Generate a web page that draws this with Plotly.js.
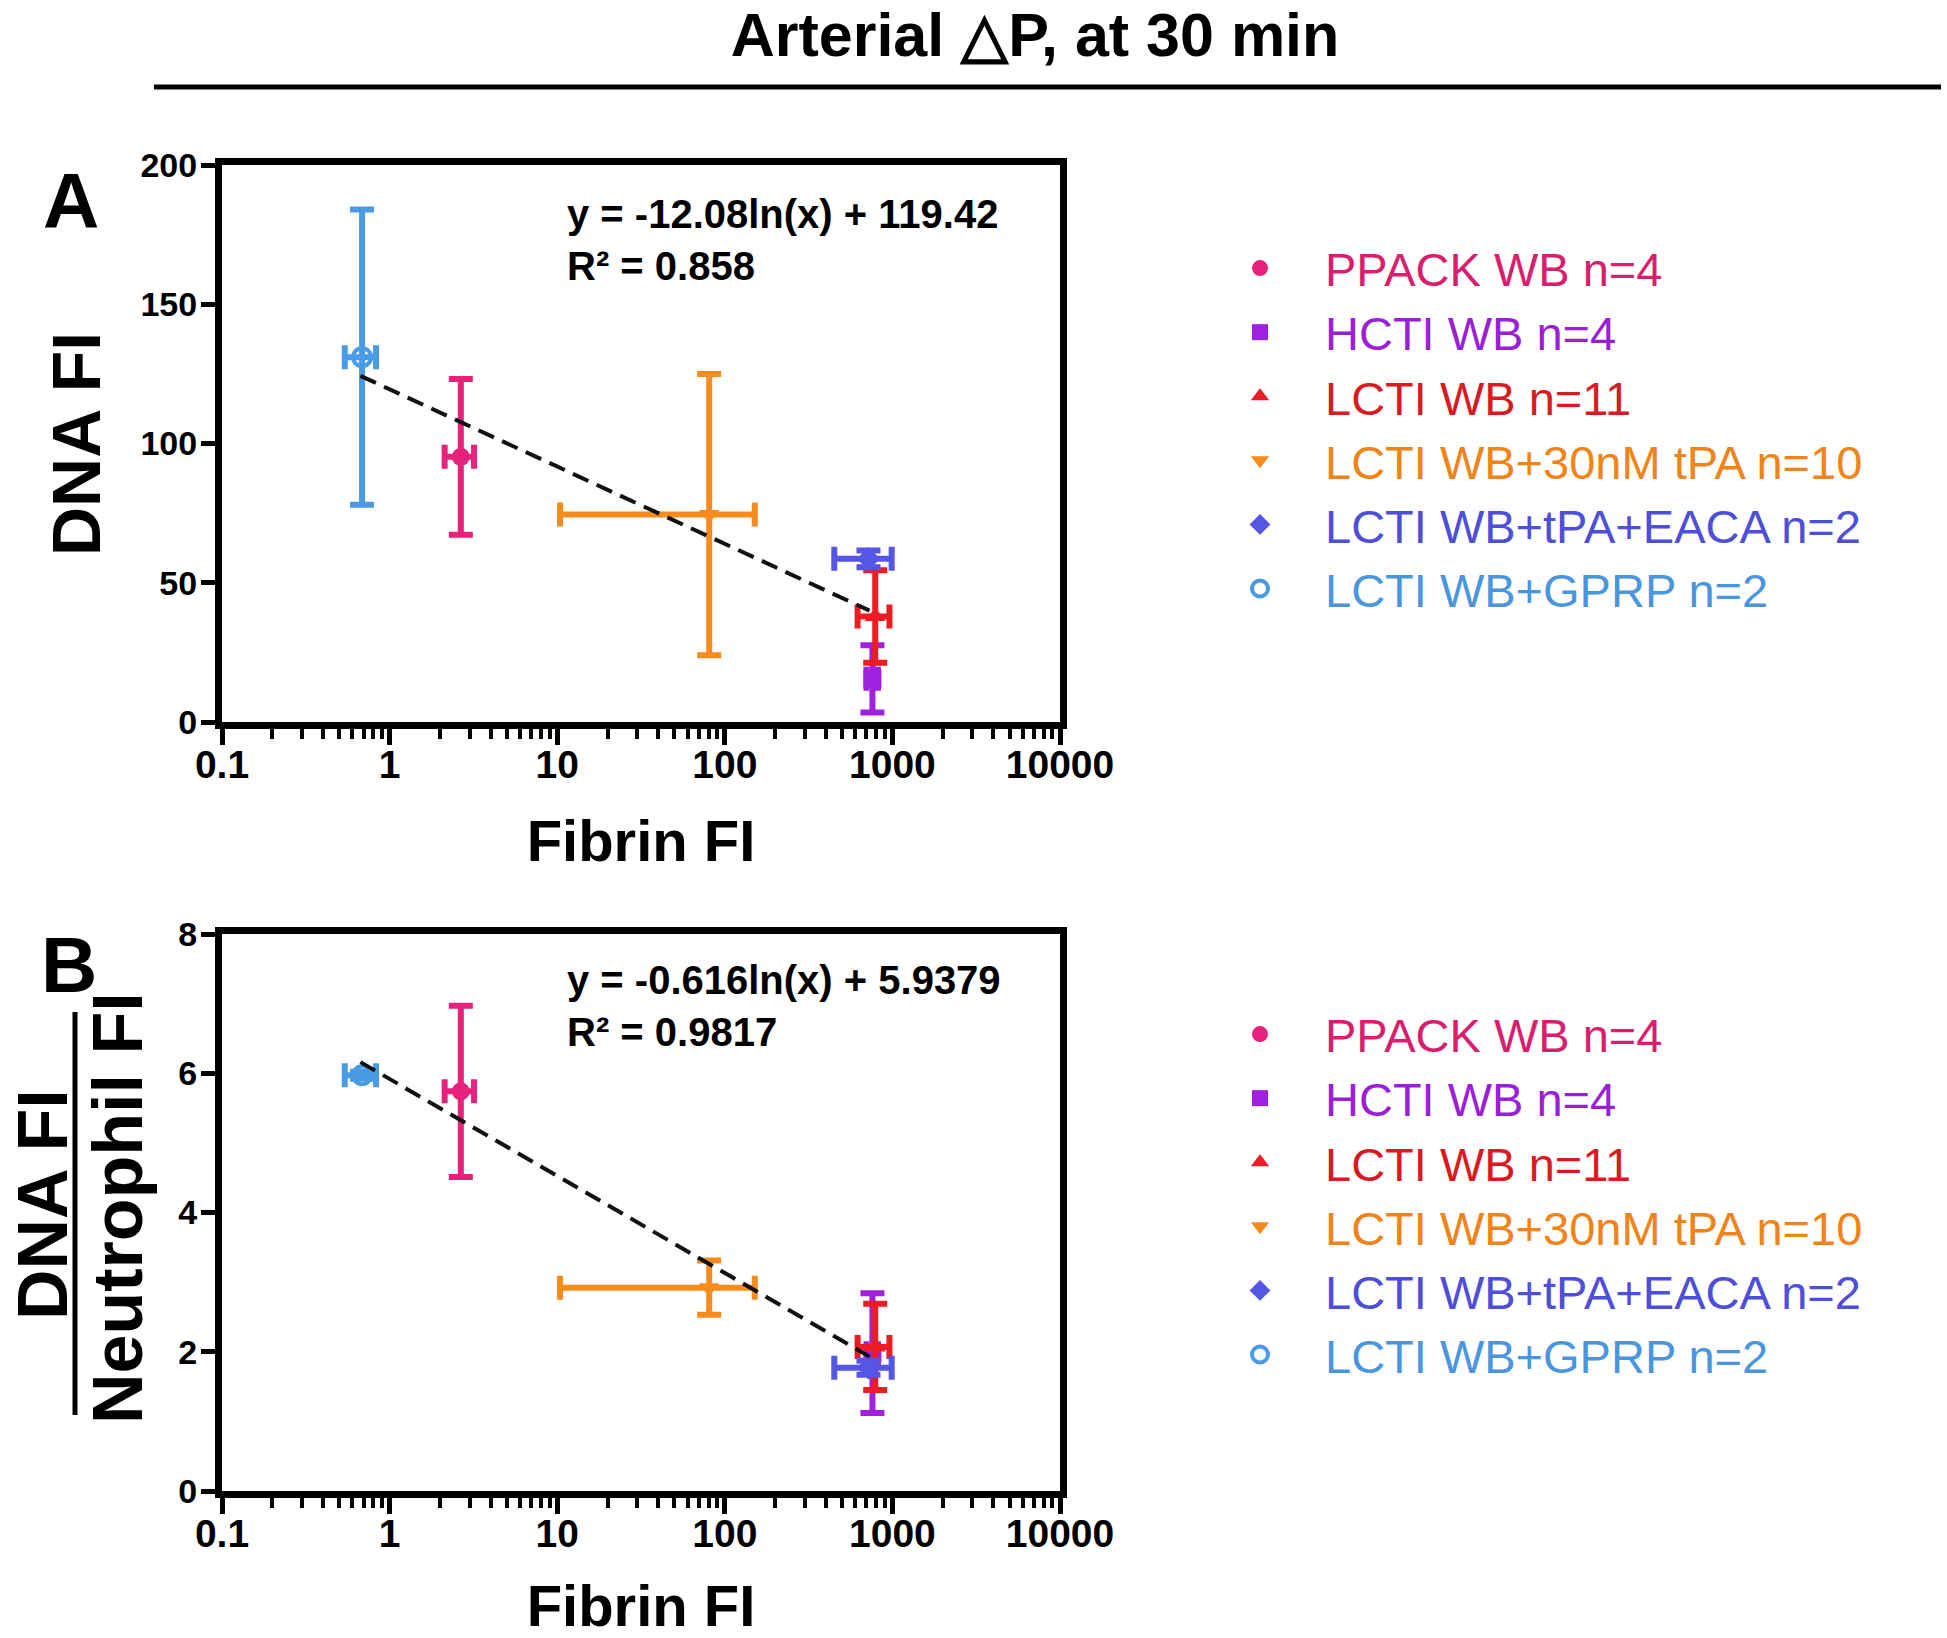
<!DOCTYPE html>
<html>
<head>
<meta charset="utf-8">
<script src="https://cdn.plot.ly/plotly-3.0.1.min.js"></script>
<style>html,body{margin:0;padding:0;background:#fff;}</style>
</head>
<body>
<div id="chart" style="width:1947px;height:1638px;"></div>
<script>
// ---- data ----
const groups = ['PPACK WB n=4', 'HCTI WB n=4', 'LCTI WB n=11', 'LCTI WB+30nM tPA n=10', 'LCTI WB+tPA+EACA n=2', 'LCTI WB+GPRP n=2'];
const colors = ['#E8227C', '#A020E0', '#EC1C24', '#F78B1E', '#5656E6', '#4A9BE6'];
const textColors = ['#D81E6E', '#9A1FD6', '#DA1A22', '#F08418', '#4E4ED8', '#4A96DE'];
const symbols = ['circle', 'square', 'triangle-up', 'triangle-down', 'diamond', 'circle-open'];

// Fibrin FI (shared by both panels)
const fibrin = [2.66, 760, 790, 80.7, 720, 0.685];
const fibrinErr = [0.53, 60, 170, 70.3, 270, 0.145];

// Panel A: DNA FI
const dnaA = [95.2, 15.5, 37.9, 74.5, 58.6, 131];
const dnaErrA = [28, 12.1, 16.6, 50.5, 3, 53];

// Panel B: DNA FI / Neutrophil FI
const ratioB = [5.74, 1.98, 2.07, 2.92, 1.77, 5.97];
const ratioErrB = [1.23, 0.86, 0.62, 0.39, 0.1, 0.05];

// Trend lines (end points)
const trendAx = [0.67, 730];
const trendAy = [124.3, 40];
const trendBx = [0.67, 730];
const trendBy = [6.16, 1.93];

const eqA = 'y = -12.08ln(x) + 119.42<br>R² = 0.858';
const eqB = 'y = -0.616ln(x) + 5.9379<br>R² = 0.9817';

const xTickVals = [0.1, 1, 10, 100, 1000, 10000];
const xTickText = ['0.1', '1', '10', '100', '1000', '10000'];

// ---- build ----
const W = 1947, H = 1638;
const px = v => v / W;
const py = v => 1 - v / H;
const FONT = 'Liberation Sans, Arial, sans-serif';

const traces = [];
function addPanel(yVals, yErr, xa, ya, leg) {
  for (let i = 0; i < groups.length; i++) {
    traces.push({
      type: 'scatter', mode: 'markers',
      x: [fibrin[i]], y: [yVals[i]],
      xaxis: xa, yaxis: ya, legend: leg,
      name: '<span style="color:' + textColors[i] + '">' + groups[i] + '</span>',
      marker: {symbol: symbols[i], size: 18, color: colors[i],
               line: {color: colors[i], width: symbols[i] === 'circle-open' ? 4 : 0}},
      error_x: {type: 'data', array: [fibrinErr[i]], color: colors[i], thickness: 6, width: 12},
      error_y: {type: 'data', array: [yErr[i]], color: colors[i], thickness: 6, width: 12}
    });
  }
}
addPanel(dnaA, dnaErrA, 'x', 'y', 'legend');
addPanel(ratioB, ratioErrB, 'x2', 'y2', 'legend2');
traces.push({type: 'scatter', mode: 'lines', x: trendAx, y: trendAy, xaxis: 'x', yaxis: 'y',
  showlegend: false, line: {color: '#111', width: 4, dash: '17px,9px'}});
traces.push({type: 'scatter', mode: 'lines', x: trendBx, y: trendBy, xaxis: 'x2', yaxis: 'y2',
  showlegend: false, line: {color: '#111', width: 4, dash: '17px,9px'}});

function xAxis(anchor) {
  return {
    domain: [px(222), px(1060)], anchor: anchor, type: 'log', range: [-1, 4],
    showline: true, linewidth: 7, linecolor: '#000', mirror: true,
    ticks: 'outside', ticklen: 16, tickwidth: 5, tickcolor: '#000', ticklabelstandoff: -14,
    tickmode: 'array', tickvals: xTickVals, ticktext: xTickText,
    tickfont: {family: FONT, size: 39, color: '#000', weight: 'bold'},
    minor: {ticks: 'outside', ticklen: 10, tickwidth: 4, tickcolor: '#000', dtick: 'D1', showgrid: false},
    showgrid: false, zeroline: false,
    title: {text: 'Fibrin FI', font: {family: FONT, size: 58, color: '#000', weight: 'bold'}, standoff: 38}
  };
}
function yAxis(anchor, domain, range, dtick) {
  return {
    domain: domain, anchor: anchor, range: range, dtick: dtick,
    showline: true, linewidth: 7, linecolor: '#000', mirror: true,
    ticks: 'outside', ticklen: 14, tickwidth: 5, tickcolor: '#000', ticklabelstandoff: -3,
    tickfont: {family: FONT, size: 34, color: '#000', weight: 'bold'},
    showgrid: false, zeroline: false
  };
}

const legendBase = {
  xanchor: 'left', yanchor: 'top', bgcolor: 'rgba(0,0,0,0)',
  font: {family: FONT, size: 47, color: '#000'}, itemwidth: 120, tracegroupgap: 0
};

const layout = {
  width: W, height: H, margin: {l: 0, r: 0, t: 0, b: 0},
  paper_bgcolor: '#fff', plot_bgcolor: '#fff', showlegend: true,
  title: {text: 'Arterial △P, at 30 min', x: px(1035), xanchor: 'center', y: py(35), yanchor: 'middle',
          yref: 'container', xref: 'container',
          font: {family: FONT, size: 61, color: '#000', weight: 'bold'}},
  xaxis: xAxis('y'),
  yaxis: yAxis('x', [py(722), py(165)], [0, 200], 50),
  xaxis2: xAxis('y2'),
  yaxis2: yAxis('x2', [py(1491), py(934)], [0, 8], 2),
  legend: Object.assign({x: px(1195), y: py(231)}, legendBase),
  legend2: Object.assign({x: px(1195), y: py(997)}, legendBase),
  shapes: [
    {type: 'line', xref: 'paper', yref: 'paper', x0: px(154), x1: px(1941), y0: py(87), y1: py(87),
     line: {color: '#000', width: 5}},
    {type: 'line', xref: 'paper', yref: 'paper', x0: px(75), x1: px(75), y0: py(1012), y1: py(1415),
     line: {color: '#000', width: 5}}
  ],
  annotations: [
    {text: 'A', xref: 'paper', yref: 'paper', x: px(71), y: py(201), xanchor: 'center', yanchor: 'middle',
     showarrow: false, font: {family: FONT, size: 78, color: '#000', weight: 'bold'}},
    {text: 'B', xref: 'paper', yref: 'paper', x: px(69), y: py(965), xanchor: 'center', yanchor: 'middle',
     showarrow: false, font: {family: FONT, size: 78, color: '#000', weight: 'bold'}},
    {text: eqA, xref: 'paper', yref: 'paper', x: px(565), y: py(240), xanchor: 'left', yanchor: 'middle',
     align: 'left', showarrow: false, font: {family: FONT, size: 40, color: '#000', weight: 'bold'}},
    {text: eqB, xref: 'paper', yref: 'paper', x: px(565), y: py(1006), xanchor: 'left', yanchor: 'middle',
     align: 'left', showarrow: false, font: {family: FONT, size: 40, color: '#000', weight: 'bold'}},
    {text: 'DNA FI', xref: 'paper', yref: 'paper', x: px(76), y: py(444), xanchor: 'center', yanchor: 'middle',
     textangle: -90, showarrow: false, font: {family: FONT, size: 68, color: '#000', weight: 'bold'}},
    {text: 'DNA FI', xref: 'paper', yref: 'paper', x: px(43), y: py(1205), xanchor: 'center', yanchor: 'middle',
     textangle: -90, showarrow: false, font: {family: FONT, size: 70, color: '#000', weight: 'bold'}},
    {text: 'Neutrophil FI', xref: 'paper', yref: 'paper', x: px(118), y: py(1208), xanchor: 'center', yanchor: 'middle',
     textangle: -90, showarrow: false, font: {family: FONT, size: 70, color: '#000', weight: 'bold'}}
  ]
};

Plotly.newPlot('chart', traces, layout, {staticPlot: true});
</script>
</body>
</html>
